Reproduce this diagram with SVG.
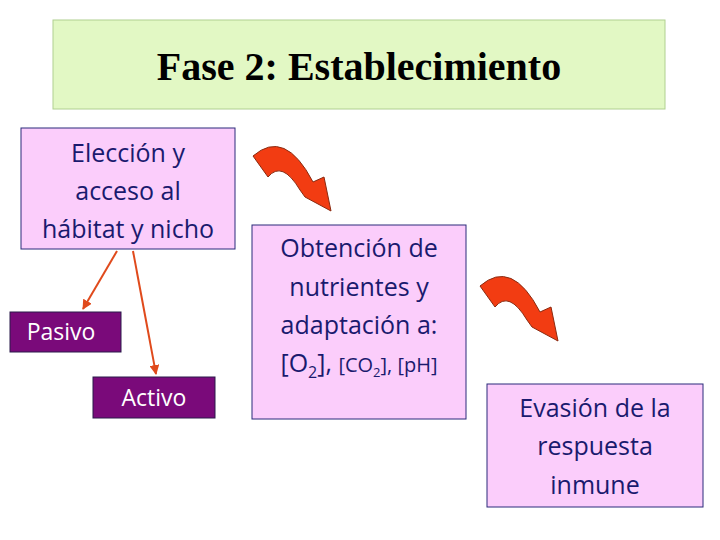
<svg xmlns="http://www.w3.org/2000/svg" width="720" height="540" viewBox="0 0 720 540">
<defs>
<marker id="ah" viewBox="0 0 10 10" refX="9" refY="5" markerWidth="5" markerHeight="5" orient="auto"><path d="M0,0L10,5L0,10z" fill="#e04a1c"/></marker>
<path id="curv" d="M253,156 Q285,128 313,182 L324,177 L331,211 L305,197 L300,190 Q282,160 268,177 Z" fill="#f23c12" stroke="#8a2a10" stroke-width="1"/>
</defs>
<style>
.t{font-family:"Open Sans","Liberation Sans",sans-serif;font-size:25px;fill:#1a1a6e;text-anchor:middle}
.w{font-family:"Open Sans","Liberation Sans",sans-serif;font-size:23px;fill:#fff;text-anchor:middle}
.pk{fill:#fbcdfb;stroke:#2a2a7a;stroke-width:1}
.pu{fill:#7a0a7a;stroke:#2a1a4a;stroke-width:1}
</style>
<rect width="720" height="540" fill="#fff"/>
<g id="title"><rect x="53" y="20" width="612" height="89" fill="#e2f8c4" stroke="#b0d090"/>
<text x="359" y="80" font-family="Liberation Serif,serif" font-weight="bold" font-size="40" text-anchor="middle">Fase 2: Establecimiento</text></g>
<g id="eleccion"><rect class="pk" x="21" y="128" width="214" height="121"/>
<text class="t" x="128" y="162">Elección y</text><text class="t" x="128" y="200">acceso al</text><text class="t" x="128" y="238">hábitat y nicho</text></g>
<g id="pasivo"><rect class="pu" x="10" y="312" width="111" height="40"/><text class="w" x="61" y="340">Pasivo</text></g>
<g id="activo"><rect class="pu" x="93" y="377" width="122" height="41"/><text class="w" x="154" y="406">Activo</text></g>
<g id="obtencion"><rect class="pk" x="252" y="225" width="214" height="194"/>
<text class="t" x="359" y="257">Obtención de</text><text class="t" x="359" y="296">nutrientes y</text><text class="t" x="359" y="334">adaptación a:</text>
<text class="t" x="359" y="372">[O<tspan font-size="16" dy="6">2</tspan><tspan dy="-6">], </tspan><tspan font-size="20">[CO<tspan font-size="13" dy="5">2</tspan><tspan dy="-5">], [pH]</tspan></tspan></text></g>
<g id="evasion"><rect class="pk" x="487" y="384" width="216" height="123"/>
<text class="t" x="595" y="417">Evasión de la</text><text class="t" x="595" y="455">respuesta</text><text class="t" x="595" y="494">inmune</text></g>
<g id="connectors">
<line x1="117" y1="251" x2="83" y2="309" stroke="#e04a1c" stroke-width="2" marker-end="url(#ah)"/>
<line x1="133" y1="251" x2="156" y2="374" stroke="#e04a1c" stroke-width="2" marker-end="url(#ah)"/>
<use href="#curv"/>
<use href="#curv" transform="translate(227,130)"/>
</g>
</svg>
